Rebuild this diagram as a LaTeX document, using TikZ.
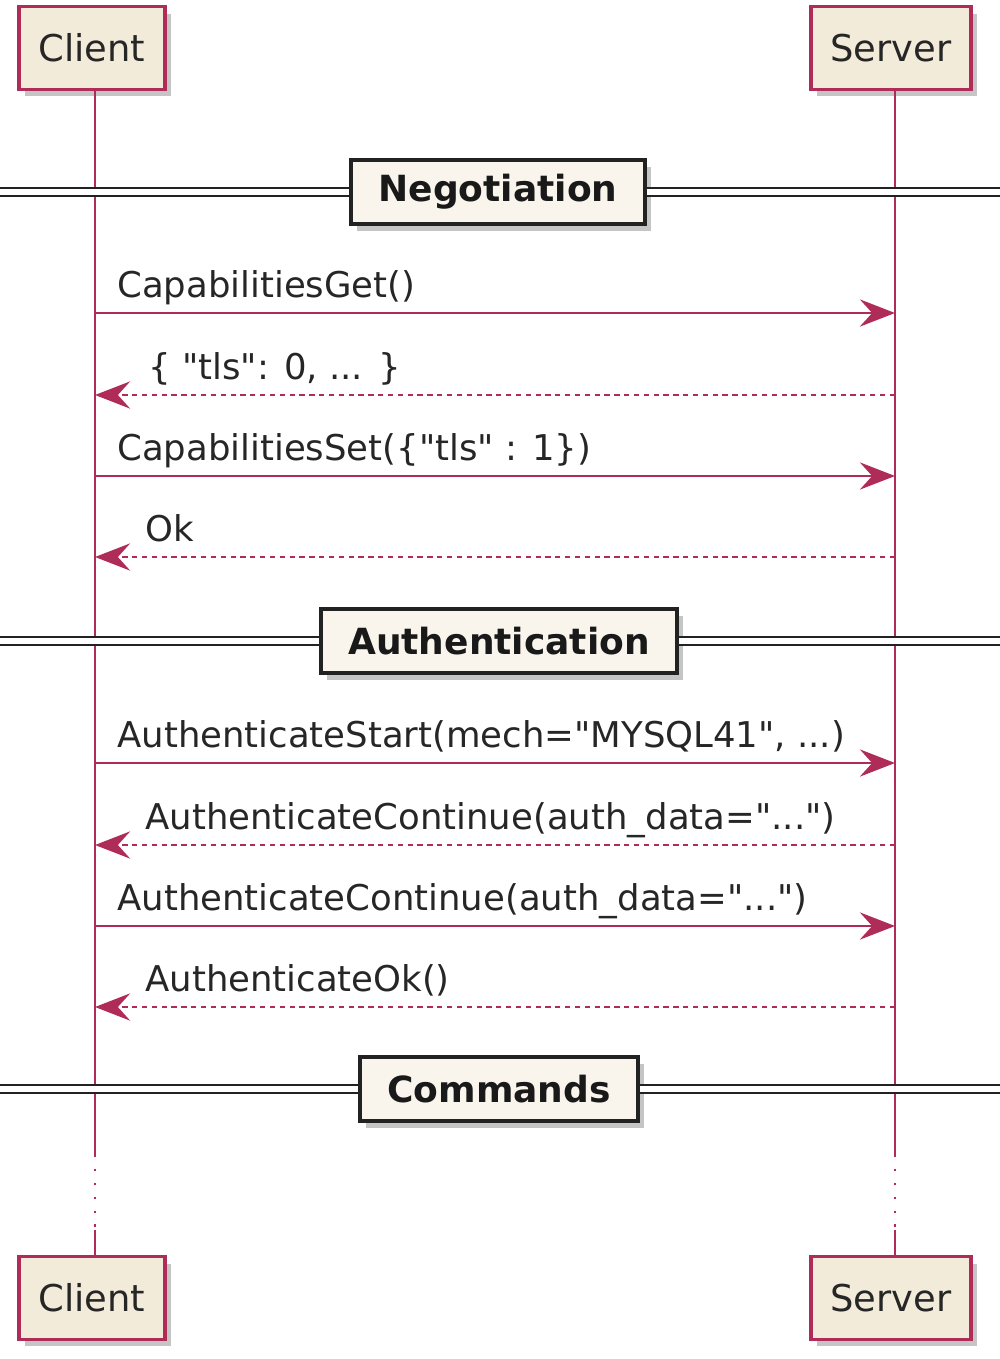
\documentclass[tikz,border=0pt]{standalone}
\usepackage{fontspec}
\setmainfont{DejaVu Sans}[Ligatures=TeXOff]
\usetikzlibrary{arrows.meta,shadows}

\definecolor{umlred}{RGB}{176,44,88}
\definecolor{umlfill}{RGB}{243,235,218}
\definecolor{divfill}{RGB}{249,245,237}
\definecolor{divdraw}{RGB}{34,34,34}

\tikzset{
partbox/.style={
  rectangle,
  line width=2pt,
  draw=umlred,
  fill=umlfill,
  minimum height=47pt,
  inner sep=0pt,
  font=\fontsize{21}{25}\selectfont,
  text=black!85,
  drop shadow={shadow xshift=3.5pt, shadow yshift=-4pt, fill=black!45, opacity=0.5},
  }
}
\tikzset{
divbox/.style={
  rectangle,
  line width=2.2pt,
  draw=divdraw,
  fill=divfill,
  minimum height=36pt,
  inner xsep=15.5pt,
  font=\bfseries\fontsize{20.5}{24}\selectfont,
  text=black!90,
  drop shadow={shadow xshift=3.5pt, shadow yshift=-4pt, fill=black!45, opacity=0.5},
  }
}
\tikzset{
divline/.style={
  draw=divdraw,
  line width=1.1pt,
  double=white,
  double distance=3.4pt,
  }
}
\tikzset{
lifeline/.style={
  draw=umlred,
  line width=1.2pt,
  }
}
\tikzset{
msgtext/.style={
  anchor=base west,
  inner sep=0pt,
  font=\fontsize{20.2}{24}\selectfont,
  text=black!85,
  }
}
\tikzset{
callline/.style={
  draw=umlred,
  line width=1.1pt,
  -{Stealth[length=20pt, width=15.5pt, inset=7pt]}
  }
}
\tikzset{
retline/.style={
  callline,
  dash pattern=on 3pt off 2.6pt,
  }
}

\begin{document}
\begin{tikzpicture}[x=0.02cm, y=-0.02cm]
    \useasboundingbox (0,0) rectangle (1000,1359);
    \coordinate (tl) at (0,0);
    \coordinate (br) at (1000,1359);

    % participants
    \node[partbox, minimum width=83pt] (client) at (92,48) {Client};
    \node[partbox, minimum width=91pt] (server) at (891,48) {Server};
    \node[partbox, minimum width=83pt] (client2) at (92,1298) {Client};
    \node[partbox, minimum width=91pt] (server2) at (891,1298) {Server};

    % lifelines with the gap
    \coordinate (cl) at (95,48);
    \coordinate (sl) at (895,48);
    \coordinate (gapT) at (0,1155);
    \coordinate (gapB) at (0,1230);
    \draw[lifeline] (cl |- client.south) -- (cl |- gapT);
    \draw[lifeline, dash pattern=on 1.4pt off 6.5pt] (cl |- gapT) -- (cl |- gapB);
    \draw[lifeline] (cl |- gapB) -- (cl |- client2.north);
    \draw[lifeline] (sl |- server.south) -- (sl |- gapT);
    \draw[lifeline, dash pattern=on 1.4pt off 6.5pt] (sl |- gapT) -- (sl |- gapB);
    \draw[lifeline] (sl |- gapB) -- (sl |- server2.north);

    % negotiation
    \node[divbox] (neg) at (498,192) {Negotiation};
    \draw[divline] (tl |- neg) -- (neg.west);
    \draw[divline] (neg.east) -- (br |- neg);

    \coordinate (m1) at (0,313);
    \coordinate (m2) at (0,395);
    \coordinate (m3) at (0,476);
    \coordinate (m4) at (0,557);
    \node[msgtext] (t1) at (117,297) {CapabilitiesGet()};
    \node[msgtext] (t2) at (148,379) {\{ "tls": 0, ... \}};
    \node[msgtext] (t3) at (117,460) {CapabilitiesSet(\{"tls" : 1\})};
    \node[msgtext] (t4) at (145,541) {Ok};
    \draw[callline] (cl |- m1) -- (sl |- m1);
    \draw[retline] (sl |- m2) -- (cl |- m2);
    \draw[callline] (cl |- m3) -- (sl |- m3);
    \draw[retline] (sl |- m4) -- (cl |- m4);

    % authentication
    \node[divbox] (auth) at (499,641) {Authentication};
    \draw[divline] (tl |- auth) -- (auth.west);
    \draw[divline] (auth.east) -- (br |- auth);

    \coordinate (m5) at (0,763);
    \coordinate (m6) at (0,845);
    \coordinate (m7) at (0,926);
    \coordinate (m8) at (0,1007);
    \node[msgtext] (t5) at (117,747) {AuthenticateStart(mech="MYSQL41", ...)};
    \node[msgtext] (t6) at (145,829) {AuthenticateContinue(auth\_data="...")};
    \node[msgtext] (t7) at (117,910) {AuthenticateContinue(auth\_data="...")};
    \node[msgtext] (t8) at (145,991) {AuthenticateOk()};
    \draw[callline] (cl |- m5) -- (sl |- m5);
    \draw[retline] (sl |- m6) -- (cl |- m6);
    \draw[callline] (cl |- m7) -- (sl |- m7);
    \draw[retline] (sl |- m8) -- (cl |- m8);

    % commands
    \node[divbox] (cmd) at (499,1089) {Commands};
    \draw[divline] (tl |- cmd) -- (cmd.west);
    \draw[divline] (cmd.east) -- (br |- cmd);
\end{tikzpicture}
\end{document}
